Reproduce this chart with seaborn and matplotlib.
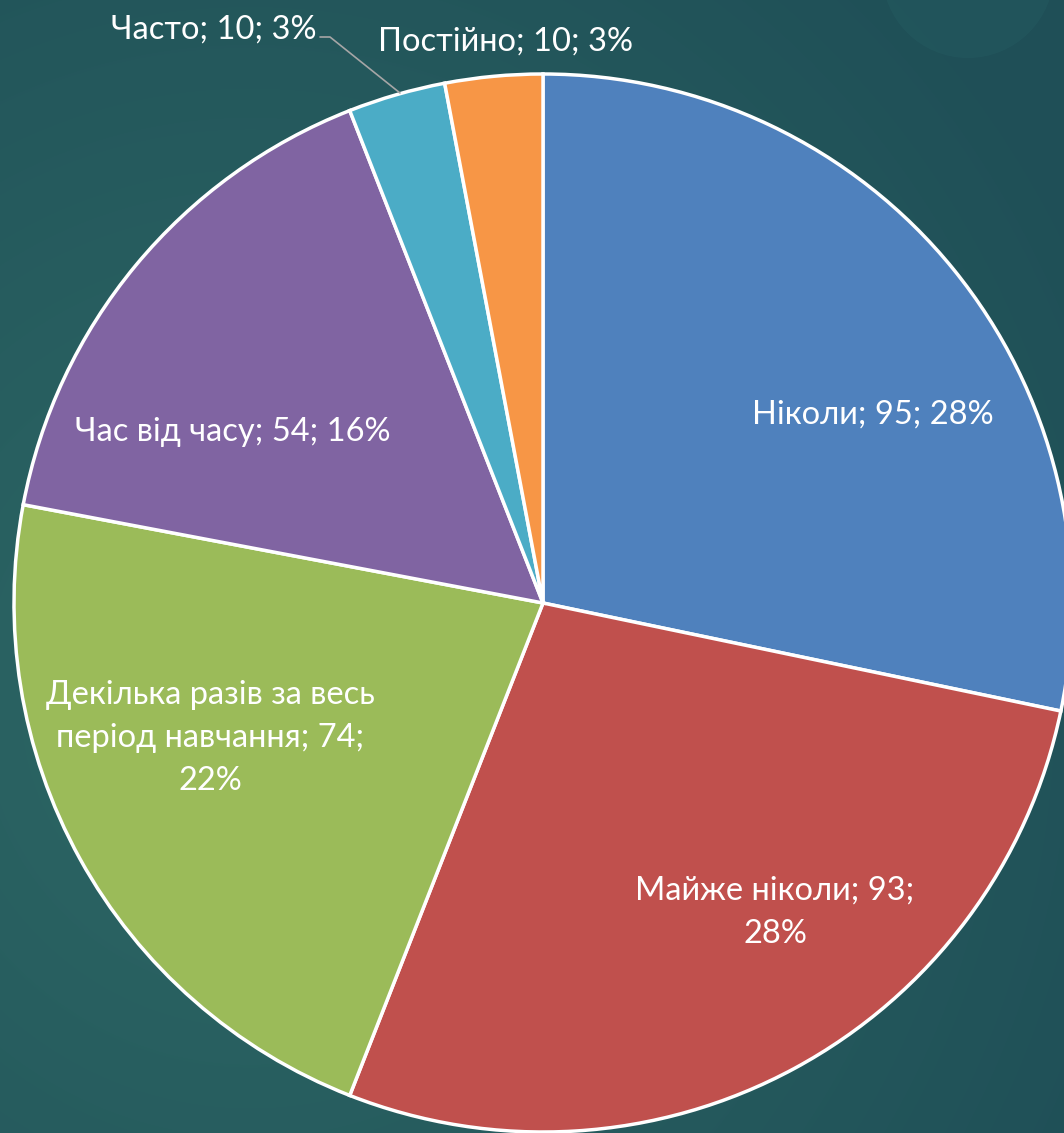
import numpy as np
import matplotlib
matplotlib.use("Agg")
import matplotlib.pyplot as plt
import seaborn as sns
from matplotlib.patches import Circle

# данные
categories = ["Ніколи", "Майже ніколи", "Декілька разів за весь період навчання",
              "Час від часу", "Часто", "Постійно"]
values = [95, 93, 74, 54, 10, 10]
percents = ["28%", "28%", "22%", "16%", "3%", "3%"]
labels = ["Ніколи; 95; 28%",
          "Майже ніколи; 93;\n28%",
          "Декілька разів за весь\nперіод навчання; 74;\n22%",
          "Час від часу; 54; 16%",
          "Часто; 10; 3%",
          "Постійно; 10; 3%"]
colors = ["#4f81bd", "#c0504d", "#9bbb59", "#8064a2", "#4bacc6", "#f79646"]

sns.set_theme(style="white")
plt.rcParams['font.family'] = ['Lato', 'DejaVu Sans']

W, H = 1064, 1133
fig = plt.figure(figsize=(W / 100, H / 100), dpi=100)

# фон: градиент
bg = fig.add_axes([0, 0, 1, 1])
yy, xx = np.mgrid[0:H, 0:W]
d = np.sqrt(((xx - 250) / W) ** 2 + ((yy - 700) / H) ** 2)
t = np.clip(d / 0.9, 0, 1)
c_in = np.array([0x2d, 0x68, 0x65]) / 255
c_out = np.array([0x1f, 0x4f, 0x57]) / 255
img = c_in[None, None, :] * (1 - t[..., None]) + c_out[None, None, :] * t[..., None]
bg.imshow(img, extent=(0, W, 0, H), origin="upper", aspect="auto")
bg.add_patch(Circle((968, H + 28), 86, color="#255c62", alpha=0.45, lw=0))
bg.set_xlim(0, W)
bg.set_ylim(0, H)
bg.axis("off")

ax = fig.add_axes([0, 0, 1, 1])
ax.set_facecolor("none")
cx, cy, R = 543, H - 603, 529
ax.pie(values, colors=sns.color_palette(colors), startangle=90, counterclock=False,
       radius=R, center=(cx, cy), frame=False,
       wedgeprops=dict(edgecolor="white", linewidth=2.5))
ax.set_xlim(0, W)
ax.set_ylim(0, H)
ax.set_aspect("equal")
ax.axis("off")

# подписи
label_pos = [(873, 415), (775, 912), (210, 738), (233, 432), (214, 30), (505, 42)]
for lab, (px, py) in zip(labels, label_pos):
    ax.text(px, H - py, lab, color="white", fontsize=23.5, ha="center", va="center",
            linespacing=1.55)

# выноска для «Часто»
ax.plot([320, 330, 400], [H - 37, H - 37, H - 93], color="#a6a6a6", lw=1.2)

fig.savefig("out.png", dpi=100)
